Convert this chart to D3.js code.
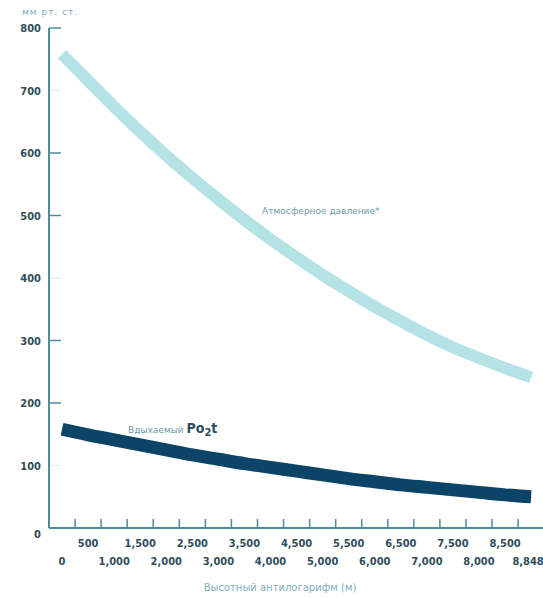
<!DOCTYPE html>
<html>
<head>
<meta charset="utf-8">
<script src="https://cdn.jsdelivr.net/npm/d3@7"></script>
<style>
  html, body { margin: 0; padding: 0; background: #ffffff; }
  svg { display: block; }
</style>
</head>
<body>
<svg id="chart" width="543" height="598"></svg>
<script>
// ---- data ----
const altitudes = ["0","500","1,000","1,500","2,000","2,500","3,000","3,500","4,000","4,500","5,000","5,500","6,000","6,500","7,000","7,500","8,000","8,500","8,848"];
const atmosphericPressure = [758, 716, 674, 634, 596, 560, 526, 493, 462, 433, 405, 379, 354, 331, 309, 289, 272, 256, 241];
const inspiredPO2 = [158, 149, 141, 133, 125, 117, 110, 103, 97, 91, 85, 79, 74, 69, 65, 61, 57, 53, 50];
const yTicks = [0, 100, 200, 300, 400, 500, 600, 700, 800];
const yTicksFaint = [100, 400, 700];
const yUnit = "мм рт. ст.";
const xTitle = "Высотный антилогарифм (м)";
const labelAtm = "Атмосферное давление*";
const labelPO2 = "Вдыхаемый";

// ---- layout ----
const svg = d3.select("#chart");
const axisColor = "#4d8c99";
const textDark = "#2e4d5c";
const textLight = "#7fb0bf";
const fontCond = "'DejaVu Sans Condensed', 'Liberation Sans Narrow', sans-serif";

const x0 = 49, y0 = 528, yTop = 28;
const step = 26.06;
const x = d3.scaleBand().domain(altitudes).range([x0, x0 + step * altitudes.length]).padding(0);
const y = d3.scaleLinear().domain([0, 800]).range([y0, yTop]);

// ---- y axis ----
const yAxis = d3.axisLeft(y).tickValues(yTicks).tickSize(0).tickPadding(8).tickFormat(d3.format("d"));
const gy = svg.append("g").attr("transform", `translate(${x0},0)`).call(yAxis);
gy.select(".domain").remove();
gy.selectAll("text")
  .attr("font-family", fontCond).attr("font-weight", "bold").attr("font-size", 11)
  .attr("fill", textDark)
  .attr("dy", d => d === 0 ? "0.9em" : "0.32em");

// inward y ticks
svg.append("g").selectAll("line").data(yTicks.filter(d => d > 0)).join("line")
  .attr("x1", x0).attr("x2", x0 + 12)
  .attr("y1", d => y(d)).attr("y2", d => y(d))
  .attr("stroke", d => yTicksFaint.includes(d) ? "#e4eef0" : axisColor)
  .attr("stroke-width", 1.5);

// ---- x axis ----
const xAxis = d3.axisBottom(x).tickSize(0).tickPadding(0);
const gx = svg.append("g").attr("transform", `translate(0,${y0})`).call(xAxis);
gx.select(".domain").remove();
const nAlt = altitudes.length;
gx.selectAll("text")
  .attr("font-family", fontCond).attr("font-weight", "bold").attr("font-size", 11)
  .attr("fill", textDark)
  .attr("x", (d, i) => i === nAlt - 1 ? -3 : 0)
  .attr("y", (d, i) => i % 2 === 1 ? 15 : 33)
  .attr("dy", "0.32em");

// boundary ticks (pointing up)
svg.append("g").selectAll("line").data(altitudes.slice(1)).join("line")
  .attr("x1", d => x(d)).attr("x2", d => x(d))
  .attr("y1", y0).attr("y2", y0 - 9)
  .attr("stroke", axisColor).attr("stroke-width", 1.5);

// axis lines
svg.append("line").attr("x1", x0).attr("x2", 543).attr("y1", y0).attr("y2", y0)
  .attr("stroke", axisColor).attr("stroke-width", 2);
svg.append("line").attr("x1", x0).attr("x2", x0).attr("y1", yTop).attr("y2", y0)
  .attr("stroke", axisColor).attr("stroke-width", 2);

// ---- curves ----
const cx = d => x(d) + x.bandwidth() / 2;
const line = d3.line().x(d => cx(d[0])).y(d => y(d[1])).curve(d3.curveMonotoneX);

svg.append("path")
  .datum(altitudes.map((a, i) => [a, atmosphericPressure[i]]))
  .attr("d", line).attr("fill", "none")
  .attr("stroke", "#b5e2e5").attr("stroke-width", 12).attr("stroke-linecap", "butt");

svg.append("path")
  .datum(altitudes.map((a, i) => [a, inspiredPO2[i]]))
  .attr("d", line).attr("fill", "none")
  .attr("stroke", "#0b4466").attr("stroke-width", 13).attr("stroke-linecap", "butt");

// ---- texts ----
svg.append("text").attr("x", 22).attr("y", 15)
  .attr("font-family", "'DejaVu Sans', sans-serif").attr("font-size", 9)
  .attr("letter-spacing", 1)
  .attr("fill", textLight).text(yUnit);

svg.append("text").attr("x", 262).attr("y", 214)
  .attr("font-family", "'DejaVu Sans', sans-serif").attr("font-size", 9)
  .attr("fill", "#6f98a8").text(labelAtm);

const t2 = svg.append("text").attr("x", 128).attr("y", 433)
  .attr("font-family", "'DejaVu Sans', sans-serif").attr("font-size", 9)
  .attr("fill", "#6f98a8");
t2.append("tspan").text(labelPO2 + " ");
t2.append("tspan").attr("font-family", fontCond).attr("font-weight", "bold")
  .attr("font-size", 14).attr("fill", textDark).text("Po");
t2.append("tspan").attr("font-family", fontCond).attr("font-weight", "bold")
  .attr("font-size", 11).attr("fill", textDark).attr("dy", 3).text("2");
t2.append("tspan").attr("font-family", fontCond).attr("font-weight", "bold")
  .attr("font-size", 14).attr("fill", textDark).attr("dy", -3).text("t");

svg.append("text").attr("x", 280).attr("y", 591).attr("text-anchor", "middle")
  .attr("font-family", "'DejaVu Sans', sans-serif").attr("font-size", 10)
  .attr("fill", textLight).text(xTitle);
</script>
</body>
</html>
